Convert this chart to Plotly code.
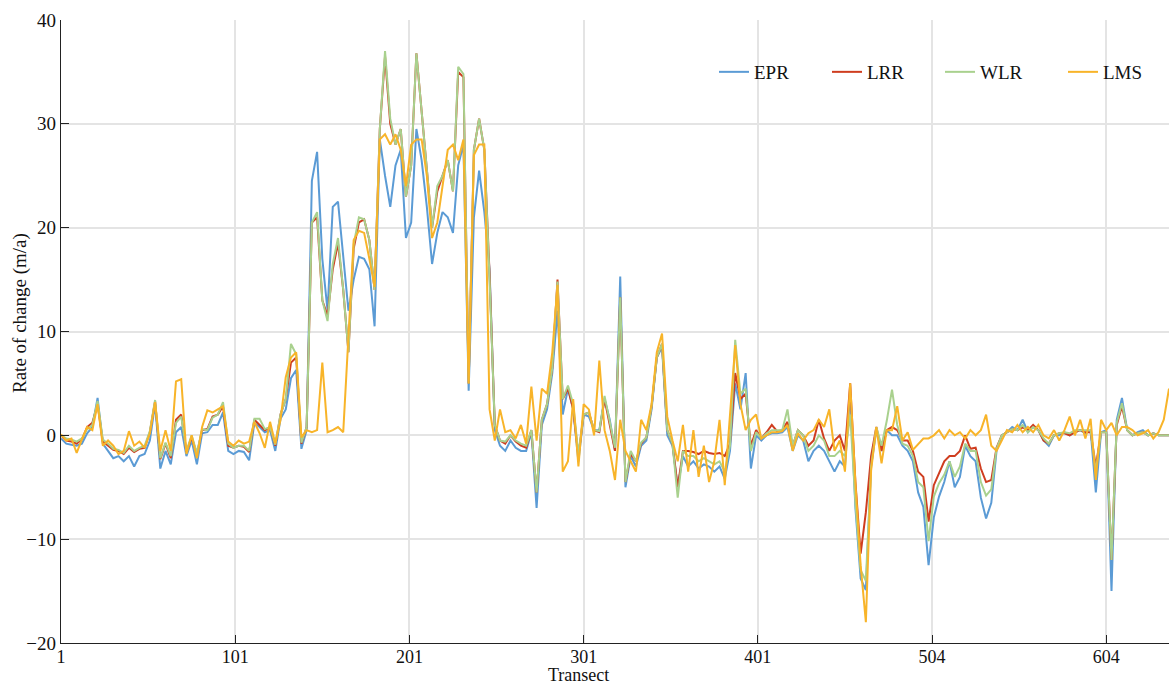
import plotly.graph_objects as go

# Transect position index (one sample every 3 transects)
transect_pos = list(range(0, 637, 3))

tick_pos = [0, 100, 200, 300, 400, 500, 600]
tick_labels = ["1", "101", "201", "301", "401", "504", "604"]

epr = [
    -0.3, -0.8, -0.9, -1.0, -0.8, 0.2, 0.8, 3.6, -0.8, -1.5,
    -2.2, -2.0, -2.5, -2.0, -3.0, -2.0, -1.8, -0.5, 3.0, -3.2,
    -1.5, -2.8, 0.3, 0.8, -2.0, -0.5, -2.8, 0.2, 0.3, 1.0,
    1.0, 2.2, -1.5, -1.8, -1.5, -1.6, -2.4, 1.2, 0.8, 0.3,
    0.5, -1.5, 1.6, 2.5, 5.5, 6.3, -1.3, 0.5, 24.5, 27.3,
    17, 12, 22, 22.5, 17, 12, 15, 17.2, 17, 16,
    10.5, 28.5, 25, 22, 26, 27.5, 19, 20.5, 29.5, 26.5,
    22, 16.5, 19.5, 21.5, 21, 19.5, 26, 28, 4.3, 21,
    25.5, 21.5, 16, 0.5, -1, -1.5, -0.5, -1.2, -1.5, -1.5,
    0.3, -7, 1, 2.5, 6, 12, 2, 4.5, 2.5, -2.5,
    2, 1.8, 0.5, 0.5, 3.5, 1.5, -1.5, 15.3, -5, -2,
    -3, -1, -0.5, 2.5, 7.5, 8.5, 0, -1, -5, -2,
    -3, -2.5, -3.2, -2.8, -3, -3.5, -3, -4.2, -1.5, 5,
    2.5, 6, -3.2, 0, -0.5, 0, 0.2, 0.2, 0.3, 0.8,
    -1.5, 0, -0.5, -2.5, -1.5, -1, -1.5, -2.5, -3.5, -2.5,
    -3, 4, -7, -13.8, -14.9, -3, 0.5, -1.5, 0.5, 0,
    0, -1, -1.5, -2.5, -5.5, -6.9, -12.5, -7.9, -5.9, -4.5,
    -2.5, -5, -4, -1, -2, -2.5, -6, -8, -6.5, -1.5,
    0, 0.3, 0.8, 0.5, 1.5, 0.3, 0.8, 0.5, -0.5, -1,
    0, 0, 0.3, 0, 0.3, 0.5, 0.2, 0.5, -5.5, 0.3,
    0.5, -15, 1.5, 3.6, 0.5, 0, 0.3, 0.5, 0, 0.2, 0, 0, 0,
]

lrr = [
    0, -0.5, -0.6, -0.8, -0.4, 0.8, 1.2, 3.0, -0.6, -1.0,
    -1.4, -1.5, -1.8, -1.2, -1.6, -1.3, -1.2, 0.3, 3.3, -2.3,
    -0.8, -2.2, 1.5, 2.0, -1.6, -0.2, -1.8, 0.5, 0.6, 1.8,
    2.0, 2.8, -1.0, -1.2, -1.0, -1.1, -1.6, 1.5, 1.0, 0.5,
    0.8, -1.0, 2.0, 3.5, 7.0, 7.5, -0.8, 0.8, 20.5, 21.0,
    13, 11.5, 16, 18.5, 14, 8, 18, 20.5, 20.8, 18.8,
    14, 29.5, 36.5, 30, 28, 29.5, 23, 26, 36.8, 31,
    25.5, 20, 23.5, 25, 26.5, 23.5, 35, 34.5, 5, 27.5,
    30.5, 27.5, 15.5, 1, -0.5, -0.8, 0, -0.6, -1.0, -1.2,
    0.5, -5.5, 1.5, 3, 6.5, 15, 3.5, 4.5, 2.5, -2,
    2, 2.2, 0.5, 0.3, 3.5, 1, -1.5, 13.3, -4.5, -1.8,
    -2.5, -0.8, -0.2, 2.8, 7.5, 8.8, 0.5, -0.8, -5, -1.5,
    -1.5, -1.6, -1.8, -1.5, -1.7, -1.8, -1.7, -2, -0.8, 6,
    3.5, 4, -1, 0.5, -0.3, 0.3, 1, 0.4, 0.5, 1.3,
    -1, 0.5, 0, -1, -0.5, 1.5, -0.3, -1.5, -0.5, 0,
    -1.5, 5, -4.5, -11.4, -7.4, -2, 0.8, -1.5, 0.5, 0.8,
    0.5, -0.5, -0.5, -1.5, -3.5, -4, -8.3, -4.8, -3.7, -2.5,
    -2, -2, -1.5, 0, -1.3, -1.2, -3.2, -4.5, -4.3, -1.2,
    0, 0.3, 0.6, 0.5, 0.8, 0.5, 1, 0.5, -0.5, -0.8,
    0, 0.2, 0.2, 0, 0.3, 0.5, 0.3, 0.3, -3, 0.3,
    0.3, -12, 1, 2.8, 0.5, 0, 0.2, 0.3, 0, 0.2, 0, 0, 0,
]

wlr = [
    0, -0.3, -0.4, -0.6, -0.3, 0.6, 1.0, 3.3, -0.4, -0.8,
    -1.3, -1.4, -1.7, -1.0, -1.5, -1.2, -1.0, 0.4, 3.4, -2.2,
    -0.7, -2.0, 1.2, 1.8, -1.5, 0.0, -1.7, 0.6, 0.5, 1.7,
    2.0, 3.2, -0.8, -1.2, -1.0, -1.0, -1.5, 1.6, 1.6, 0.6,
    0.8, -0.9, 2.0, 3.5, 8.8, 7.8, -0.7, 0.8, 20.5, 21.5,
    13, 11, 16.5, 19, 14, 8, 18.4, 21, 20.8, 18.8,
    14, 29.5, 37, 30.5, 28, 29.5, 23, 26, 36.8, 31,
    25.5, 20, 24, 25, 26.5, 23.5, 35.5, 34.8, 5, 27.5,
    30.5, 27.5, 15, 1, -0.5, -0.6, 0, -0.5, -0.8, -1.0,
    0.5, -5.5, 1.5, 3, 6.5, 14.8, 3.5, 4.8, 3, -1.8,
    2, 2.2, 0.5, 0.4, 3.8, 1.2, -1.2, 13.3, -4.5, -1.5,
    -2.5, -0.7, -0.2, 2.8, 7.5, 8.8, 0.5, -0.8, -6, -1.5,
    -2, -2, -2.5, -2.2, -2.5, -2.8, -2.5, -3.5, -1, 9.2,
    4, 4.5, -1.5, 0.3, -0.3, 0.2, 0.5, 0.5, 0.5, 2.5,
    -1, 0.5, 0, -1.5, -1, 0, -0.5, -2, -2, -1.5,
    -2, 2, -6.5, -13, -14, -3, 0.8, -1, 1.4, 4.4,
    1, -0.8, -1, -2, -4.5, -5, -10.2, -5.9, -4.6, -3.8,
    -2.5, -4, -3, -0.8, -1.5, -1.5, -4.5, -5.8, -5.2, -1.3,
    0, 0.3, 0.6, 0.5, 1, 0.3, 0.8, 0.5, -0.3, -0.8,
    0, 0.2, 0.3, 0.2, 0.5, 0.5, 0.5, 0.5, -3.5, 0.3,
    0.3, -12, 1.2, 3.1, 0.5, 0, 0.2, 0.3, 0, 0.2, 0, 0, 0,
]

lms = [
    0.1, -0.5, -0.3, -1.7, -0.4, 0.8, 0.5, 3.0, -1.0, -0.5,
    -1.0, -1.8, -1.5, 0.4, -1.0, -0.6, -1.2, 0.2, 3.2, -1.5,
    0.5, -1.5, 5.2, 5.4, -1.8, 0.0, -2.2, 0.8, 2.4, 2.2,
    2.5, 2.8, -0.6, -1.0, -0.5, -0.8, -0.6, 1.3, 0.2, -1.2,
    1.3, -0.8, 1.5, 5.6, 7.5, 8.0, -0.2, 0.5, 0.3, 0.5,
    7, 0.3, 0.5, 0.8, 0.3, 9.8, 18.8, 19.7, 19.5, 17,
    14.3, 28.5, 29, 28, 29, 27.5, 24, 28, 28.5, 28.5,
    25, 19, 20.5, 24, 27.5, 28, 26.5, 28.5, 5, 27,
    28, 28, 2.5, -0.5, 2.5, 0.3, 0.5, -0.3, 1.0, -0.8,
    4.7, -0.5, 4.5, 4, 8, 14.5, -3.5, -2.5, 3.5, -3,
    3, 2.5, 0, 7.2, 0.5, -1.5, -4.3, 1.5, -1.5, -2.5,
    -3.5, 1.5, 0.5, 3, 8, 9.8, 1.8, -0.5, -2.5, 1.0,
    -3.5, 0.5, -4, -1, -4.5, -2.5, 1.5, -4.8, 1.5, 8.7,
    3, 0.5, 1.5, 2, -0.3, 0, 0.3, 0.3, 0.4, 1,
    -1.5, 0.2, -0.5, 0.2, 0.5, 1.5, 0.8, 2.5, -1.5, -0.5,
    -3.5, 5, -4.6, -12.5, -18, -3.4, 0.8, -2.7, 0.5, 0.5,
    2.8, -0.5, 0.3, -1.4, -0.8, -0.3, -0.3, 0, 0.5, -0.3,
    0.5, 0, 0.3, -0.3, 0.5, 0, 0.5, 2, -1, -1.5,
    -0.5, 0.5, 0.3, 1, 0.3, 0.8, 0.3, 1, 0, -0.3,
    0.5, -0.5, 0.5, 1.8, 0, 1.5, -0.3, 1.6, -4.3, 1.5,
    0.5, 1.2, 0, 0.8, 0.8, 0.5, 0, 0.2, 0.5, -0.3, 0.3, 1.5, 4.5,
]

series_names = ["EPR", "LRR", "WLR", "LMS"]
series_values = [epr, lrr, wlr, lms]
series_colors = ["#5b9bd5", "#cf3d1f", "#a9d18e", "#f8b429"]
legend_ids = ["legend", "legend2", "legend3", "legend4"]
legend_line_px = [719, 832, 945, 1068]   # left end of each legend sample line

FONT = "Liberation Serif, Times New Roman, serif"
L, R, T, B = 61, 0, 20, 43
W, H = 1169, 686
PW = W - L - R
PH = H - T - B

fig = go.Figure()
for name, vals, color, lid in zip(series_names, series_values, series_colors, legend_ids):
    n = min(len(vals), len(transect_pos))
    fig.add_trace(go.Scatter(
        x=transect_pos[:n], y=vals[:n], mode="lines", name=name,
        line=dict(color=color, width=2), legend=lid,
    ))

legend_layout = {}
for lid, px in zip(legend_ids, legend_line_px):
    legend_layout[lid] = dict(
        x=(px - 5 - L) / PW, xanchor="left",
        y=(H - B - 72) / PH, yanchor="middle",
        font=dict(family=FONT, size=19, color="#111111"),
        bgcolor="rgba(0,0,0,0)", itemwidth=30, borderwidth=0,
    )

fig.update_layout(
    width=W, height=H,
    margin=dict(l=L, r=R, t=T, b=B, autoexpand=False),
    paper_bgcolor="white", plot_bgcolor="white",
    font=dict(family=FONT, size=19, color="#111111"),
    showlegend=True,
    **legend_layout,
    xaxis=dict(
        range=[0, 636], tickmode="array", tickvals=tick_pos, ticktext=tick_labels,
        showgrid=True, gridcolor="#e4e4e4", gridwidth=1.5,
        showline=True, linecolor="#222222", linewidth=1.3,
        ticks="inside", ticklen=8, tickcolor="#222222",
        zeroline=False, tickfont=dict(family=FONT, size=18),
        ticklabelstandoff=-3,
    ),
    yaxis=dict(
        range=[-20, 40], tickmode="array", tickvals=[-20, -10, 0, 10, 20, 30, 40],
        showgrid=True, gridcolor="#e4e4e4", gridwidth=1.5,
        showline=True, linecolor="#222222", linewidth=1.3,
        ticks="inside", ticklen=8, tickcolor="#222222",
        zeroline=False, tickfont=dict(family=FONT, size=19),
    ),
    annotations=[
        dict(text="Transect", xref="paper", yref="paper",
             x=(578 - L) / PW, y=(H - B - 675) / PH, xanchor="center", yanchor="middle",
             showarrow=False, font=dict(family=FONT, size=18)),
        dict(text="Rate of change (m/a)", xref="paper", yref="paper",
             x=(20 - L) / PW, y=(H - B - 313) / PH, xanchor="center", yanchor="middle",
             textangle=-90, showarrow=False, font=dict(family=FONT, size=19)),
    ],
)

fig.write_html("out.html")
